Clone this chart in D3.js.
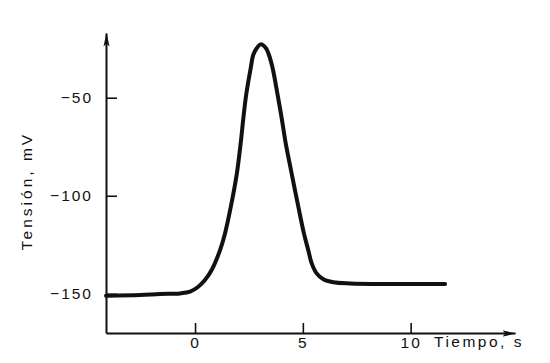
<!DOCTYPE html>
<html>
<head>
<meta charset="utf-8">
<script src="https://cdn.jsdelivr.net/npm/d3@7"></script>
<style>
  body { margin: 0; background: #fff; }
  text { font-family: "Liberation Sans", Arial, sans-serif; fill: #111; }
</style>
</head>
<body>
<div id="chart"></div>
<script>
// values
const timeS = [-4.13, -2.55, -1.62, -0.7, -0.23, 0.15, 0.46, 0.77, 1.16, 1.39, 1.66, 1.94, 2.12, 2.24, 2.37, 2.58, 2.7, 2.86, 3.05, 3.29, 3.43, 3.6, 3.83, 4.02, 4.2, 4.48, 4.79, 5.05, 5.25, 5.41, 5.64, 5.95, 6.41, 7.19, 8.9, 11.6];
const voltMV = [-151, -150.6, -150.1, -149.8, -148.9, -146.4, -143, -137.9, -127.7, -119.2, -105.6, -88.6, -72.9, -60.5, -48.6, -35, -28.2, -24.8, -22.8, -24.8, -28.2, -35, -48.6, -60.5, -72.9, -88.6, -105.6, -119.2, -127.7, -134.5, -139.6, -142.6, -144.1, -144.7, -145, -145];
const xTicks = [0, 5, 10];
const yTicks = [-50, -100, -150];
const xLabel = 'Tiempo, s';
const yLabel = 'Tensión, mV';

const width = 550, height = 363;
const svg = d3.select('#chart').append('svg').attr('width', width).attr('height', height);

const x = d3.scaleLinear().domain([-4.13, 14.84]).range([106, 515]);
const y = d3.scaleLinear().domain([-170, -17]).range([333, 33]);

// arrow heads for the axes
svg.append('defs').append('marker')
  .attr('id', 'arrow').attr('viewBox', '0 0 14 8').attr('refX', 13).attr('refY', 4)
  .attr('markerWidth', 14).attr('markerHeight', 8).attr('markerUnits', 'userSpaceOnUse')
  .attr('orient', 'auto')
  .append('path').attr('d', 'M0,1 L14,4 L0,7 L3,4 Z').attr('fill', '#111');

const yAxis = svg.append('g').attr('transform', `translate(${x.range()[0]},0)`)
  .call(d3.axisLeft(y).tickValues(yTicks).tickSize(-11).tickSizeOuter(0).tickPadding(13));
const xAxis = svg.append('g').attr('transform', `translate(0,${y.range()[0]})`)
  .call(d3.axisBottom(x).tickValues(xTicks).tickSize(-10).tickSizeOuter(0).tickPadding(4));

[xAxis, yAxis].forEach(g => {
  g.select('.domain').attr('stroke', '#111').attr('stroke-width', 2).attr('marker-end', 'url(#arrow)');
  g.selectAll('.tick line').attr('stroke', '#111').attr('stroke-width', 1.6);
  g.selectAll('.tick text').attr('font-size', 15.5).attr('letter-spacing', '2px')
    .attr('font-family', '"Liberation Sans", Arial, sans-serif').attr('fill', '#111');
});

svg.append('text').attr('x', 434).attr('y', 347).attr('font-size', 15.5)
  .attr('letter-spacing', '2.5px').text(xLabel);

svg.append('text').attr('transform', 'translate(32,191) rotate(-90)')
  .attr('text-anchor', 'middle').attr('font-size', 15.5).attr('letter-spacing', '3px')
  .text(yLabel);

const pts = timeS.map((t, i) => [t, voltMV[i]]);
svg.append('path').datum(pts)
  .attr('fill', 'none').attr('stroke', '#111').attr('stroke-width', 4)
  .attr('stroke-linecap', 'round').attr('stroke-linejoin', 'round')
  .attr('d', d3.line().x(d => x(d[0])).y(d => y(d[1])).curve(d3.curveCatmullRom.alpha(0.5)));
</script>
</body>
</html>
